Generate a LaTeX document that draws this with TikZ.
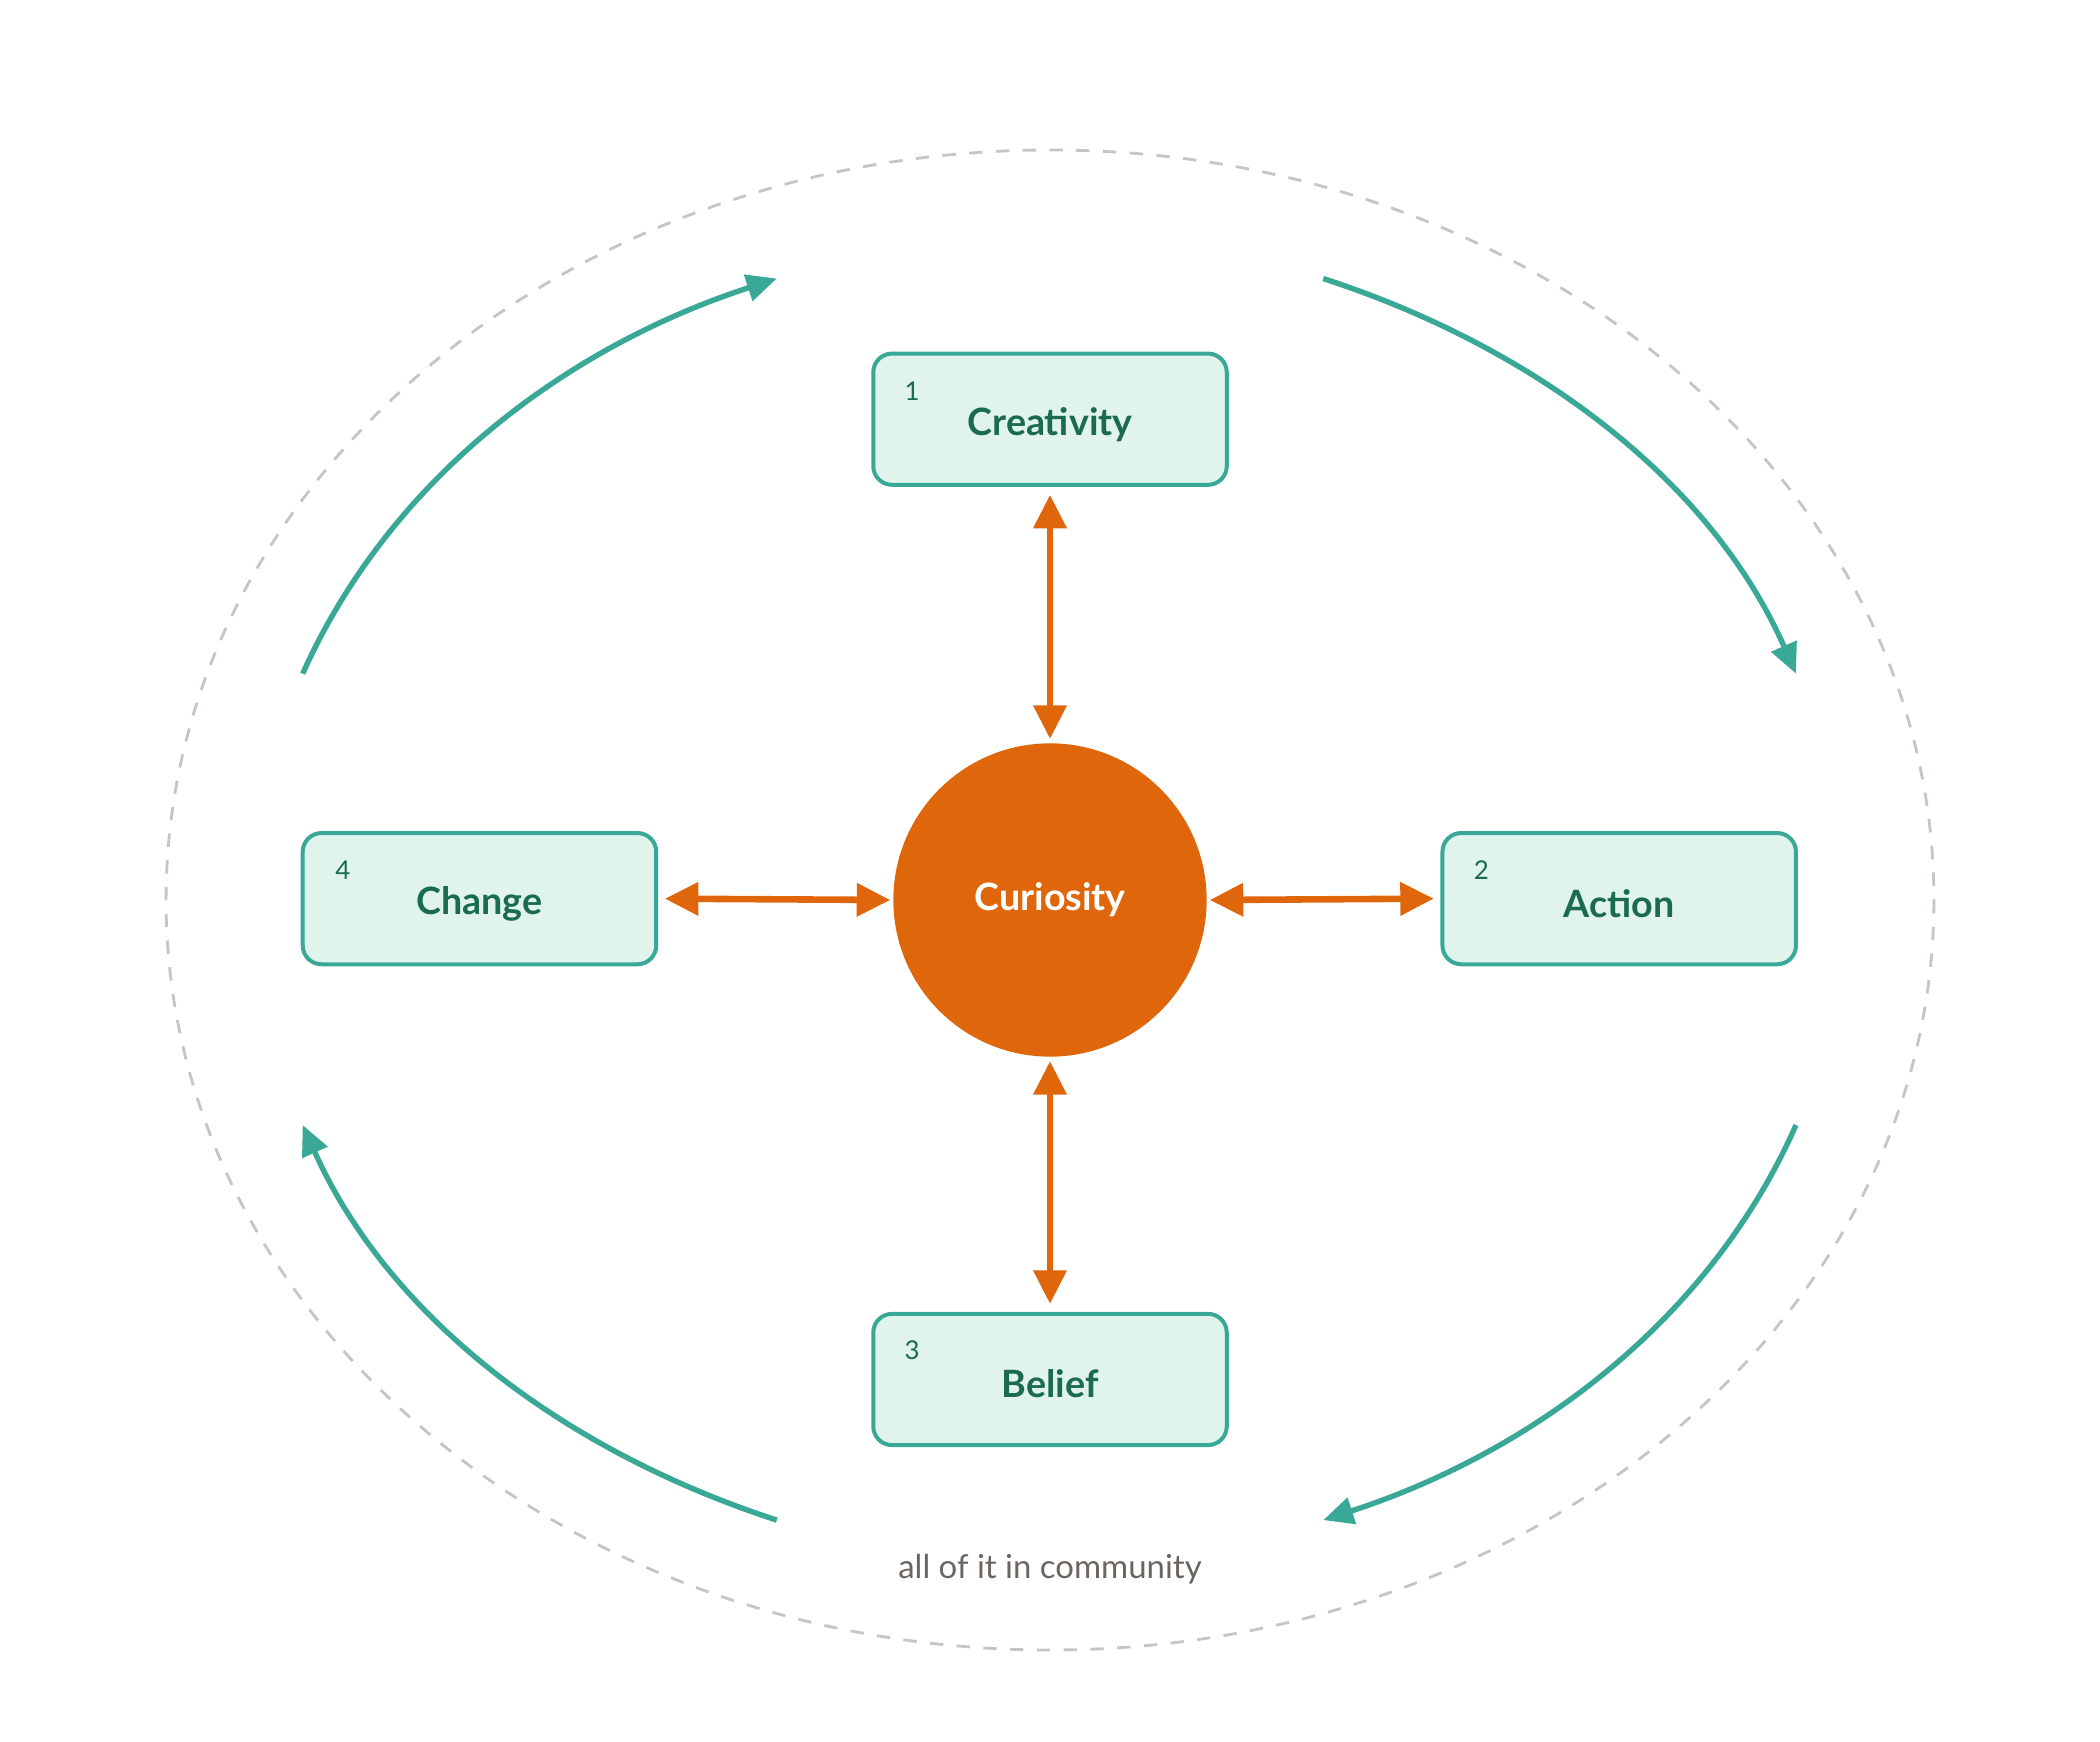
\documentclass[tikz,border=0pt]{standalone}
\usepackage{fontspec}
\setmainfont{Lato}
\usetikzlibrary{arrows.meta}
\definecolor{teal}{HTML}{3AA897}
\definecolor{boxfill}{HTML}{E0F4EC}
\definecolor{dgreen}{HTML}{1A6B50}
\definecolor{orng}{HTML}{E0660C}
\definecolor{dgray}{HTML}{C8C5C0}
\definecolor{tgray}{HTML}{6B6560}
\begin{document}
\begin{tikzpicture}[x=0.02cm,y=-0.02cm,
  box/.style={draw=teal,fill=boxfill,line width=1.7pt,rounded corners=0.28cm,minimum width=5.28cm,minimum height=1.96cm,inner sep=0},
  lbl/.style={text=dgreen,font=\fontsize{16}{18}\selectfont\bfseries},
  num/.style={text=dgreen,font=\fontsize{11}{12}\selectfont},
  oarr/.style={draw=orng,line width=2.8pt,{Triangle[length=0.5cm,width=0.48cm]}-{Triangle[length=0.5cm,width=0.48cm]}},
  tarr/.style={draw=teal,line width=2.3pt,-{Triangle[length=0.45cm,width=0.4cm]}}]
\useasboundingbox (0,0) rectangle (1568,1300);
\draw[dgray,line width=1.2pt,dash pattern=on 0.2cm off 0.2cm] (784,672) ellipse [x radius=660, y radius=560];
\node[box] (cre) at (784,313) {}; \node[lbl] at (784,317) {Creativity}; \node[num] (n1) at (681,292) {1};
\node[box] (act) at (1209,671) {}; \node[lbl] at (1209,675) {Action}; \node[num] (n2) at (1106,650) {2};
\node[box] (bel) at (784,1030) {}; \node[lbl] at (784,1033) {Belief}; \node[num] (n3) at (681,1008) {3};
\node[box] (chg) at (358,671) {}; \node[lbl] at (358,675) {Change}; \node[num] (n4) at (256,650) {4};
\node[circle,fill=orng,minimum size=4.68cm,inner sep=0,text=white,font=\fontsize{16}{18}\selectfont\bfseries] (cur) at (784,672) {Curiosity};
\draw[oarr] ([yshift=-0.12cm]cre.south) -- ([yshift=0.06cm]cur.north);
\draw[oarr] ([yshift=-0.06cm]cur.south) -- ([yshift=0.12cm]bel.north);
\draw[oarr] ([xshift=0.1cm]chg.east) -- ([xshift=-0.04cm]cur.west);
\draw[oarr] ([xshift=0.04cm]cur.east) -- ([xshift=-0.1cm]act.west);
\coordinate (a1) at (226,503); \coordinate (a2) at (580,208);
\coordinate (b1) at (988,208); \coordinate (b2) at (1341,503);
\coordinate (c1) at (1341,840); \coordinate (c2) at (988,1135);
\coordinate (d1) at (580,1135); \coordinate (d2) at (226,840);
\draw[tarr] (a1) .. controls (290,360) and (420,260) .. (a2);
\draw[tarr] (b1) .. controls (1148,260) and (1278,360) .. (b2);
\draw[tarr] (c1) .. controls (1278,983) and (1148,1083) .. (c2);
\draw[tarr] (d1) .. controls (420,1083) and (290,983) .. (d2);
\node[text=tgray,font=\fontsize{14}{16}\selectfont] (comm) at (784,1172) {all of it in community};
\end{tikzpicture}
\end{document}
